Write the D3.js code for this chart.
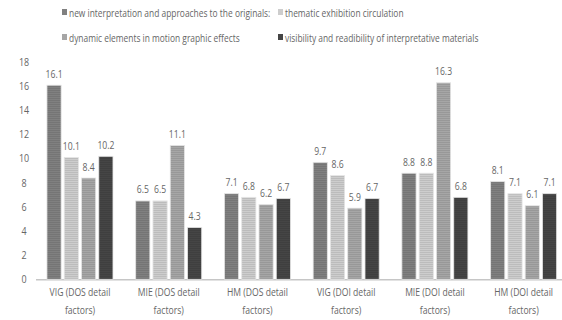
<!DOCTYPE html>
<html><head><meta charset="utf-8">
<script src="https://cdn.jsdelivr.net/npm/d3@7"></script>
<style>body{margin:0;background:#fff}svg{display:block}text{font-family:"Open Sans","Liberation Sans",sans-serif;fill:#666}</style>
</head><body><svg id="c" width="562" height="320"></svg>
<script>
const categories = ["VIG (DOS detail factors)","MIE (DOS detail factors)","HM (DOS detail factors)","VIG (DOI detail factors)","MIE (DOI detail factors)","HM (DOI detail factors)"];
const seriesNames = ["new interpretation and approaches to the originals:","thematic exhibition circulation","dynamic elements in motion graphic effects","visibility and readibility of interpretative materials"];
const newInterpretation = [16.1,6.5,7.1,9.7,8.8,8.1];
const thematicCirculation = [10.1,6.5,6.8,8.6,8.8,7.1];
const dynamicElements = [8.4,11.1,6.2,5.9,16.3,6.1];
const visibility = [10.2,4.3,6.7,6.7,6.8,7.1];
const yTicks = [0,2,4,6,8,10,12,14,16,18];
const seriesValues = [newInterpretation, thematicCirculation, dynamicElements, visibility];
const colors = ["#808080","#cdcdcd","#a6a6a6","#454545"];

const svg = d3.select("#c");
const defs = svg.append("defs");
colors.forEach((c,i)=>{
  const p = defs.append("pattern").attr("id","p"+i).attr("patternUnits","userSpaceOnUse").attr("width",4).attr("height",2);
  p.append("rect").attr("width",4).attr("height",2).attr("fill",c);
  p.append("rect").attr("width",4).attr("height",1).attr("fill",d3.color(c).darker(0.25));
});
// squeezed text: group at (x,y) with horizontal scale k
function stext(parent, x, y, str, k, anchor, size){
  return parent.append("g").attr("transform",`translate(${x},${y}) scale(${k},1)`)
    .append("text").attr("x",0).attr("y",0).attr("text-anchor",anchor||"middle")
    .attr("font-size",size||10.5).attr("fill","#666").text(str);
}

const x0 = d3.scaleBand().domain(categories).range([35.6,568]).paddingInner(0.256).paddingOuter(0.128);
const x1 = d3.scaleBand().domain(d3.range(4)).range([0,x0.bandwidth()]).paddingInner(0.18);
const y = d3.scaleLinear().domain([0,18]).range([279.3,62.3]);

// y axis labels
yTicks.forEach(v=>{ stext(svg,24,y(v)+3.7,String(v),0.85,"middle",10.5); });

// baseline
svg.append("line").attr("x1",36).attr("x2",562).attr("y1",y(0)+0.5).attr("y2",y(0)+0.5).attr("stroke","#c6c6c6").attr("stroke-width",1.5);

categories.forEach((cat,ci)=>{
  const g = svg.append("g").attr("transform",`translate(${x0(cat)},0)`);
  seriesValues.forEach((vals,si)=>{
    const v = vals[ci];
    g.append("rect").attr("x",x1(si)).attr("y",y(v)).attr("width",x1.bandwidth()).attr("height",y(0)-y(v))
      .attr("fill",`url(#p${si})`).attr("stroke","#e4e4e4").attr("stroke-width",0.8);
    stext(g, x1(si)+x1.bandwidth()/2, y(v)-7.5, v.toFixed(1), 0.82, "middle", 10.5);
  });
  const parts = cat.split(" detail ");
  const cx = x0(cat)+x0.bandwidth()/2;
  stext(svg, cx, 296, parts[0]+" detail", 0.82, "middle", 10.5);
  stext(svg, cx, 314, parts[1], 0.82, "middle", 10.5);
});

// legend
const leg = [[62,13],[278,13],[62,38],[278,38]];
const legK = [0.8,0.8,0.8,0.8];
seriesNames.forEach((n,i)=>{
  svg.append("rect").attr("x",leg[i][0]).attr("y",leg[i][1]-4).attr("width",5).attr("height",6).attr("fill",colors[i]);
  stext(svg, leg[i][0]+7, leg[i][1]+3.5, n, legK[i], "start", 10.5);
});
</script></body></html>
